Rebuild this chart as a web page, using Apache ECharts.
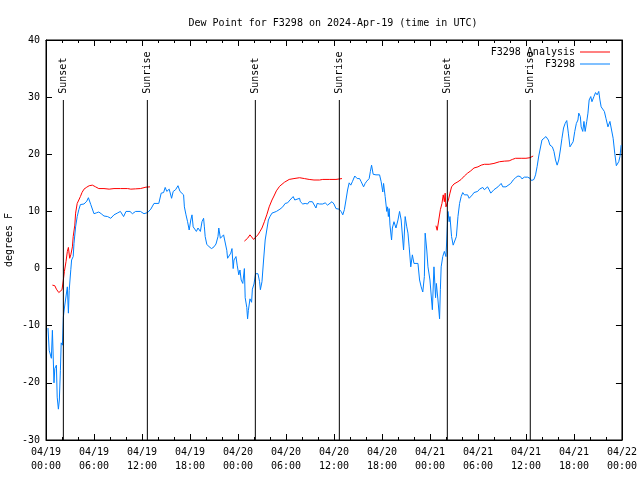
<!DOCTYPE html>
<html>
<head>
<meta charset="utf-8">
<script src="https://cdn.jsdelivr.net/npm/echarts@6/dist/echarts.min.js"></script>
<style>html,body{margin:0;padding:0;background:#fff}#c{width:640px;height:480px}</style>
</head>
<body>
<div id="c"></div>
<script>
// Hours since 2024-04-19 00:00 UTC
var blueHours = [0.25,0.4,0.67,0.8,1.0,1.1,1.2,1.3,1.4,1.55,1.67,1.8,1.9,2.05,2.17,2.3,2.45,2.67,2.8,2.9,3.1,3.2,3.4,3.5,3.7,3.9,4.1,4.3,4.75,5.1,5.3,5.6,6.0,6.3,6.6,6.9,7.25,7.7,8.1,8.5,8.9,9.3,9.7,10.0,10.5,10.8,11.2,11.8,12.25,12.7,13.1,13.5,13.75,14.1,
14.4,14.7,14.9,15.1,15.4,15.7,15.9,16.2,16.5,16.75,17.0,17.2,17.3,17.5,17.7,17.9,18.1,18.25,18.4,18.6,18.8,19.0,19.3,19.5,19.7,19.8,19.9,20.1,20.4,20.7,21.0,21.25,21.5,21.6,21.8,22.0,22.2,22.4,22.6,22.7,22.9,23.1,23.25,23.4,23.5,23.75,23.9,24.1,24.25,24.4,24.6,24.8,24.9,25.1,25.2,25.3,25.5,25.7,25.8,26.0,26.2,26.5,26.7,26.8,27.0,27.2,27.4,27.6,27.8,28.0,28.25,28.5,28.8,29.0,29.25,
29.6,29.9,30.2,30.5,30.75,30.9,31.1,31.3,31.7,31.8,32.1,32.4,32.7,32.9,33.1,33.3,33.5,33.75,33.9,34.2,34.6,34.9,35.2,35.4,35.75,36.0,36.25,36.6,36.9,37.1,37.3,37.5,37.7,37.9,38.1,38.3,38.6,38.9,39.2,39.4,39.7,39.9,40.1,40.4,40.55,40.7,40.9,41.25,41.7,41.9,42.1,42.2,42.4,42.6,42.7,42.8,42.9,43.0,43.2,43.3,43.5,43.75,
44.0,44.2,44.4,44.6,44.7,44.9,45.1,45.25,45.4,45.6,45.8,46.0,46.25,46.5,46.7,46.9,47.1,47.3,47.4,47.6,47.75,47.9,48.0,48.2,48.3,48.5,48.7,48.8,49.0,49.2,49.3,49.4,49.6,49.8,50.0,50.1,50.25,50.4,50.5,50.7,50.9,51.1,51.3,51.5,51.7,51.9,52.1,52.3,52.5,52.7,52.9,53.1,53.3,53.5,53.75,53.96,54.2,54.4,54.6,54.8,55.0,55.2,55.4,55.6,55.8,56.0,56.25,56.5,56.7,56.9,57.1,57.5,57.75,
58.1,58.4,58.7,59.0,59.3,59.5,59.8,60.2,60.5,60.7,61.0,61.2,61.4,61.6,61.8,62.0,62.25,62.5,62.7,62.8,63.0,63.3,63.5,63.7,63.9,64.1,64.3,64.5,64.7,64.9,65.1,65.3,65.5,65.7,65.9,66.1,66.3,66.5,66.6,66.8,66.9,67.1,67.25,67.4,67.6,67.75,67.9,68.1,68.25,68.5,68.7,68.9,69.1,69.25,69.4,69.6,69.8,70.0,70.25,70.5,70.7,70.9,71.1,71.3,71.4,71.6,71.75,71.9];
var blueValues = [-10.4,-14.3,-15.7,-10.8,-20,-17.5,-17.8,-16.9,-22.5,-24.6,-23,-17.8,-13,-13.4,-8.5,-6.9,-6.6,-3.2,-7.8,-3.8,-0.2,1.5,2.1,4.4,7.3,9.1,10.3,11.2,11.3,11.8,12.4,11.2,9.6,9.75,9.9,9.6,9.2,9.1,8.8,9.4,9.7,10.0,9.1,10,10,9.6,10,10,9.6,9.8,10.4,11.4,11.7,11.4,
13.2,13.3,14.2,13.5,13.9,12.3,13.5,13.8,14.5,13.5,13.6,12.9,10.8,9.4,8.2,6.75,8.5,9.4,7.3,7.6,6.5,7.1,6.5,8.2,8.8,7.3,5.6,4.25,3.8,3.5,3.8,4.3,5.6,7.1,5.3,5.1,5.9,5.7,3.2,1.8,2.1,2.7,3.5,0,1.5,2.1,0.6,-1.1,-0.25,-2,-2.6,0,-5.1,-6.8,-8.8,-7.3,-5.3,-5.9,-3.6,-2.7,-0.9,-0.9,-2.3,-3.7,-2.3,1.5,5,6.75,8.5,9.1,9.7,10,10,10.3,10.4,
10.8,11.4,11.5,12,12.3,12.6,12,12.3,12.3,11.7,11.3,11.4,11.3,11.7,11.4,11.7,11.4,10.6,11.4,11.3,11.3,11.5,11.1,11.3,11.7,11.3,10.5,10.4,10,9.4,10.3,12,13.75,15,14.6,15.2,16.2,15.75,15.75,15.2,14.3,14.9,15.3,15.75,17,18.1,16.5,16.4,16.4,15.2,13.4,14.9,12.6,10,10.8,9.1,10.5,7.6,5,7.1,8.2,7.1,
8.5,10,8.5,5,3.25,9.1,7.3,6.2,3.8,0.3,2.4,0.9,0.6,0.9,-2,-3.2,-4.1,-1.4,6.2,3.25,0.3,0.3,-2,-5.5,-7.2,0.3,-5.1,-2.6,-5.5,-8.8,-3.7,0.3,2.1,3,2.1,5,10,8.2,9.1,5.6,4.1,3.8,5.6,9.1,11.4,12.6,13.3,12.9,12.6,12.9,12.3,12.6,12.9,13.3,13.6,13.5,13.9,13.8,14.2,13.8,14,14.3,13.8,13.2,13.2,13.8,14,14.3,14.3,14.9,14.3,14.3,14.1,
14.9,15.5,15.9,16.2,16.1,15.7,16,16,15.8,15.4,15.6,16.4,17.9,19.7,21.1,22.5,22.6,23.1,23.2,22.5,21.6,21.3,20.5,19,18.1,19,20.75,22.8,24.6,25.4,25.9,23.7,21.3,21.1,22.2,24,25.4,26,27.2,26.6,24.8,24,25.75,24,25.75,27.2,29.5,30.1,29.2,30.1,30.8,30.4,31,29.5,28.3,28.6,27.5,26.3,24.8,25.75,24.25,22.8,20.2,18,17.7,18.7,19.6,21.6];

var redHours = [0.8,1.1,1.3,1.6,1.8,2.0,2.17,2.3,2.5,2.67,2.8,2.96,3.1,3.3,3.4,3.6,3.7,3.9,4.1,4.3,4.5,4.75,5.1,5.4,5.8,6.2,6.6,7.25,7.9,8.5,9.3,10.2,10.6,11.2,11.8,12.5,13.0,
18,
24.8,25.2,25.5,25.75,25.95,26.2,26.5,26.75,27.0,27.3,27.6,27.9,28.25,28.5,28.8,29.2,29.8,30.4,31.0,31.7,32.3,32.9,33.5,34.2,34.6,35.4,36.25,37.0,
42,
48.75,48.9,49.1,49.3,49.5,49.66,49.8,49.9,50.0,50.1,50.3,50.5,50.7,51.0,51.5,51.9,52.3,52.7,53.1,53.5,54.0,54.4,54.8,55.4,56.0,56.7,57.3,57.9,58.3,58.7,59.4,60.0,60.5,60.9];
var redValues = [-2.9,-3,-3.6,-4.2,-4.45,-3.7,-2,-0.5,1.2,3,3.7,1.8,2.4,3.8,5.6,7.6,9.7,11.4,12,12.6,13.3,13.9,14.25,14.5,14.6,14.3,14,14,13.9,14,14,14,13.9,13.95,14,14.25,14.3,
null,
4.8,5.3,5.9,6.2,5.1,5.5,5.9,6.5,7.1,8.2,9.4,10.8,12,12.7,13.6,14.4,15.1,15.6,15.75,15.9,15.75,15.6,15.5,15.5,15.6,15.6,15.6,15.75,
null,
7.5,6.7,8.5,10.3,11.4,12.9,11.7,13.2,10.8,10.8,12,13.2,14.3,14.8,15.2,15.6,16.2,16.7,17.1,17.6,17.8,18.1,18.25,18.25,18.4,18.7,18.8,18.85,19.1,19.3,19.3,19.3,19.4,19.7];

var sunHours = [2.17, 12.67, 26.17, 36.67, 50.17, 60.54];
var sunLabels = ['Sunset', 'Sunrise', 'Sunset', 'Sunrise', 'Sunset', 'Sunrise'];

var xTickLabels = ['04/19\n00:00','04/19\n06:00','04/19\n12:00','04/19\n18:00','04/20\n00:00','04/20\n06:00','04/20\n12:00','04/20\n18:00','04/21\n00:00','04/21\n06:00','04/21\n12:00','04/21\n18:00','04/22\n00:00'];

var FONT = 'DejaVu Sans Mono';
var Y_MIN = -30, LINE_TOP = 29.5, LABEL_AT = 30.6;

function pairs(h, v) {
  return h.map(function (x, i) { return [x, v[i] === null ? '-' : v[i]]; });
}

var sunData = [];
sunHours.forEach(function (h, i) {
  sunData.push([h, Y_MIN]);
  sunData.push([h, LINE_TOP]);
  sunData.push([h, '-']);
  sunData.push({
    name: sunLabels[i], value: [h, LABEL_AT], symbol: 'circle', symbolSize: 0.01,
    label: {show: true, formatter: '{b}', position: [0, 0], rotate: 90, align: 'left', verticalAlign: 'middle',
            fontFamily: FONT, fontSize: 10, color: '#000'}
  });
  sunData.push([h, '-']);
});

var chart = echarts.init(document.getElementById('c'), null, {renderer: 'canvas'});
// Axis lines stay on the plot edges: onZero refers to a hidden helper axis whose range excludes 0.
var baseX = {
  type: 'value', min: 0, max: 72, interval: 6,
  axisLine: {show: true, onZero: true, onZeroAxisIndex: 2, lineStyle: {color: '#000', width: 1}},
  axisTick: {show: true, inside: true, length: 6, lineStyle: {color: '#000'}},
  minorTick: {show: true, splitNumber: 3, length: 3, lineStyle: {color: '#000'}},
  splitLine: {show: false}, minorSplitLine: {show: false}
};
var baseY = {
  type: 'value', min: -30, max: 40, interval: 10,
  axisLine: {show: true, onZero: true, onZeroAxisIndex: 2, lineStyle: {color: '#000', width: 1}},
  axisTick: {show: true, inside: true, length: 6, lineStyle: {color: '#000'}},
  splitLine: {show: false}
};
var option = {
  animation: false,
  backgroundColor: '#fff',
  title: {
    text: 'Dew Point for F3298 on 2024-Apr-19 (time in UTC)',
    left: 328, top: 13, textAlign: 'center',
    textStyle: {fontFamily: FONT, fontSize: 10, fontWeight: 'normal', color: '#000'}
  },
  graphic: [{
    type: 'text', left: 4, top: 'middle', rotation: Math.PI / 2,
    style: {text: 'degrees F', font: '10px ' + FONT, fill: '#000'}
  }],
  grid: {left: 46, right: 18, top: 40, bottom: 40, show: true, borderColor: '#000', borderWidth: 1, backgroundColor: 'transparent'},
  legend: {
    orient: 'vertical', right: 25, top: 42, align: 'right',
    icon: 'rect', itemWidth: 30, itemHeight: 1, itemGap: 2,
    data: ['F3298 Analysis', 'F3298'],
    textStyle: {fontFamily: FONT, fontSize: 10, color: '#000'}
  },
  xAxis: [
    Object.assign({}, baseX, {
      position: 'bottom',
      axisLabel: {
        show: true, margin: 5, color: '#000', fontFamily: FONT, fontSize: 10, lineHeight: 14,
        formatter: function (v) { return xTickLabels[Math.round(v / 6)]; }
      }
    }),
    Object.assign({}, baseX, {position: 'top', axisLabel: {show: false}}),
    {type: 'value', min: 100, max: 200, show: false, position: 'bottom'}
  ],
  yAxis: [
    Object.assign({}, baseY, {
      position: 'left',
      axisLabel: {show: true, margin: 6, color: '#000', fontFamily: FONT, fontSize: 10}
    }),
    Object.assign({}, baseY, {position: 'right', axisLabel: {show: false}}),
    {type: 'value', min: 100, max: 200, show: false, position: 'left'}
  ],
  series: [
    {
      name: 'F3298 Analysis', type: 'line', xAxisIndex: 0, yAxisIndex: 0,
      data: pairs(redHours, redValues), symbol: 'none', connectNulls: false,
      lineStyle: {color: '#ff0000', width: 1}, itemStyle: {color: '#ff0000'}, z: 3
    },
    {
      name: 'F3298', type: 'line', xAxisIndex: 0, yAxisIndex: 0,
      data: pairs(blueHours, blueValues), symbol: 'none',
      lineStyle: {color: '#0080ff', width: 1}, itemStyle: {color: '#0080ff'}, z: 4
    },
    {
      name: 'sun', type: 'line', xAxisIndex: 0, yAxisIndex: 0,
      data: sunData, symbol: 'none', showSymbol: true, connectNulls: false,
      emphasis: {disabled: true}, tooltip: {show: false},
      lineStyle: {color: '#000', width: 1}, itemStyle: {color: '#000'}, z: 5
    }
  ]
};
chart.setOption(option);
</script>
</body>
</html>
